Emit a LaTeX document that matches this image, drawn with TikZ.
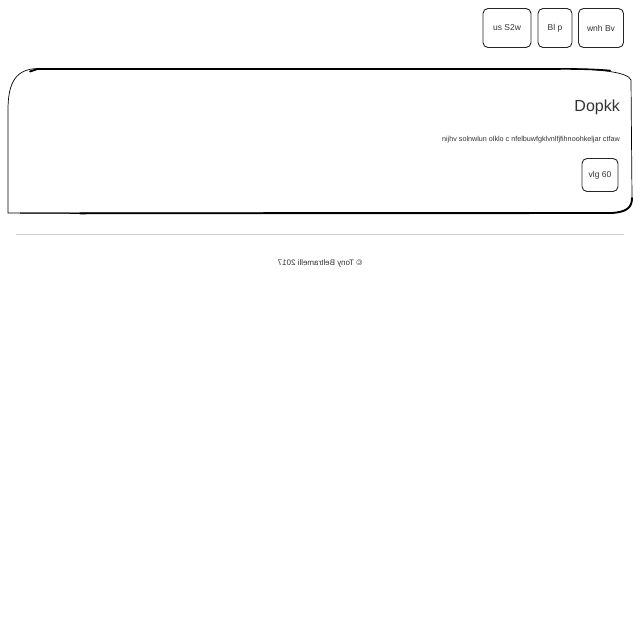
\documentclass[tikz,border=0pt]{standalone}
\usepackage{fontspec}
\setmainfont{Liberation Sans}
\begin{document}
\begin{tikzpicture}[x=1pt,y=-1pt,
  btn/.style={draw=black!85,line width=0.9pt,rounded corners=5pt,inner sep=0pt,font=\fontsize{8.5}{10}\selectfont\color{black!80}},
  txt/.style={inner sep=0pt,color=black!80}]
\useasboundingbox[fill=white] (0,0) rectangle (640,640);
% top buttons
\node[btn,minimum width=48pt,minimum height=39pt] (b3) at (507,28) {us S2w};
\node[btn,minimum width=34pt,minimum height=39pt] (b2) at (555,28) {Bl p};
\node[btn,minimum width=45pt,minimum height=39pt] (b1) at (601,28) {wnh Bv};
% panel
\draw[line width=0.7pt] (8,213) -- (8,110) .. controls (8,82) and (16,69) .. (38,68.5) -- (560,68.5)
  .. controls (600,69) and (628,72) .. (631,80) -- (632,198) .. controls (632,208) and (626,212) .. (612,213) -- cycle;
\draw[line width=2.2pt,line cap=round] (38,68.8) -- (560,68.8);
\draw[line width=1.6pt,line cap=round] (560,68.8) .. controls (590,69.2) .. (610,70.5);
\draw[line width=1.8pt,line cap=round] (30,71.5) .. controls (34,69.5) .. (38,68.8);
\draw[line width=1pt] (20,213) -- (80,213.3);
\draw[line width=1.9pt,line cap=round] (80,213.3) -- (612,213) .. controls (626,212) and (632,208) .. (632,198);
% title
\node[txt,anchor=east,font=\fontsize{16}{19}\selectfont] (title) at (620,107) {Dopkk};
\node[txt,anchor=east,font=\fontsize{7.2}{9}\selectfont] (para) at (620,140) {nijhv solnwlun olklo c nfelbuwfgklvnlfjfihnoohkeljar ctfaw};
\node[btn,minimum width=36pt,minimum height=33pt] (b4) at (600,175) {vlg 60};
% separator
\draw[black!20,line width=1pt] (16,234) coordinate (s1) -- (624,234) coordinate (s2);
% footer
\node[txt,font=\fontsize{8}{10}\selectfont] (foot) at (320,263) {\reflectbox{\textcopyright{} Tony Beltramelli 2017}};
\end{tikzpicture}
\end{document}
